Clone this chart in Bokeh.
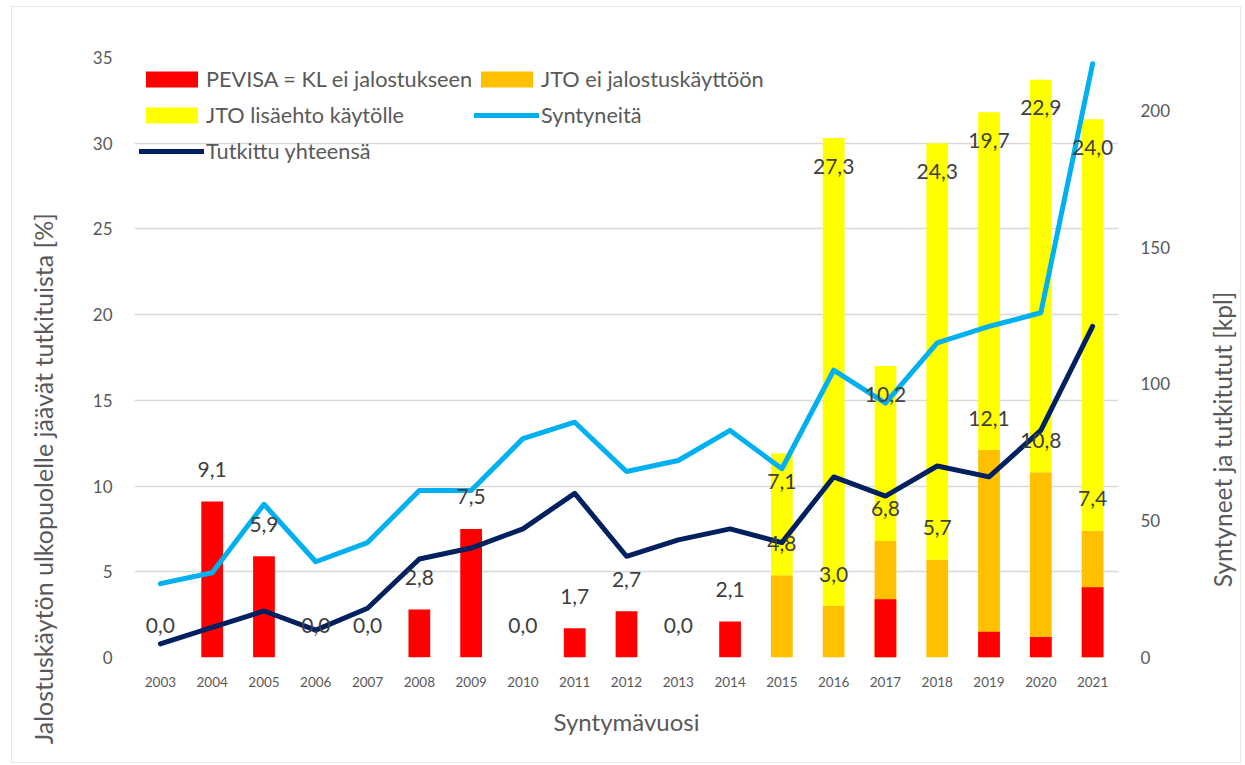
import math
from bokeh.plotting import figure
from bokeh.layouts import row
from bokeh.models import (FactorRange, Range1d, LinearAxis, ColumnDataSource,
                          Legend, LegendItem, Label, FixedTicker)
from bokeh.core.properties import value
from bokeh.embed import file_html
from bokeh.resources import INLINE

# ---------------- data ----------------
years = [str(y) for y in range(2003, 2022)]
# % of examined dogs
pevisa = [0.0, 9.1, 5.9, 0.0, 0.0, 2.8, 7.5, 0.0, 1.7, 2.7, 0.0, 2.1,
          0.0, 0.0, 3.4, 0.0, 1.5, 1.2, 4.1]            # PEVISA = KL ei jalostukseen
jto_ei = [0.0] * 12 + [4.8, 3.0, 6.8, 5.7, 12.1, 10.8, 7.4]      # JTO ei jalostuskäyttöön
jto_lisa = [0.0] * 12 + [7.1, 27.3, 10.2, 24.3, 19.7, 22.9, 24.0]  # JTO lisäehto käytölle
# counts (right axis)
syntyneita = [27, 31, 56, 35, 42, 61, 61, 80, 86, 68, 72, 83, 69, 105, 93, 115, 121, 126, 217]
tutkittu = [5, 11, 17, 10, 18, 36, 40, 47, 60, 37, 43, 47, 42, 66, 59, 70, 66, 83, 121]

left_ticks = [0, 5, 10, 15, 20, 25, 30, 35]
right_ticks = [0, 50, 100, 150, 200]

FONT = "Lato"
TXT = "#595959"
LBL = "#404040"

def fmt(v):
    return f"{v:.1f}".replace(".", ",")

yellow_top = [o + y for o, y in zip(jto_ei, jto_lisa)]
src = ColumnDataSource(dict(year=years, red=pevisa, orange=jto_ei, ytop=yellow_top,
                            synt=syntyneita, tutk=tutkittu))

low_x, low_y, low_t = [], [], []
hi_x, hi_y, hi_t = [], [], []
for yr, r, o, yl, yt in zip(years, pevisa, jto_ei, jto_lisa, yellow_top):
    if o == 0 and yl == 0:
        low_x.append(yr); low_y.append(r); low_t.append(fmt(r))
    else:
        low_x.append(yr); low_y.append(o); low_t.append(fmt(o))
        hi_x.append(yr); hi_y.append(yt); hi_t.append(fmt(yl))
low_src = ColumnDataSource(dict(x=low_x, y=low_y, t=low_t))
hi_src = ColumnDataSource(dict(x=hi_x, y=hi_y, t=hi_t))

H = 755

# ---------------- main figure ----------------
p = figure(x_range=FactorRange(factors=years, range_padding=0),
           y_range=Range1d(0, 35),
           width=1128, height=H, output_backend="svg", toolbar_location=None,
           min_border_left=62, min_border_right=82, min_border_top=50,
           min_border_bottom=105)
p.extra_y_ranges = {"right": Range1d(0, 219.3)}
p.outline_line_color = None
p.background_fill_color = "white"
p.border_fill_color = "white"

p.xgrid.grid_line_color = None
p.ygrid.grid_line_color = "#D9D9D9"
p.ygrid.grid_line_width = 1.3

BW = 0.42
r_or = p.vbar(x="year", bottom=0, top="orange", width=BW, fill_color="#FFC000",
              line_color=None, source=src)
r_ye = p.vbar(x="year", bottom="orange", top="ytop", width=BW, fill_color="#FFFF00",
              line_color=None, source=src)
r_red = p.vbar(x="year", bottom=0, top="red", width=BW, fill_color="#FF0000",
               line_color=None, source=src)

r_syn = p.line(x="year", y="synt", y_range_name="right", line_width=5, line_color="#00B0F0",
               line_join="round", line_cap="round", source=src)
r_tut = p.line(x="year", y="tutk", y_range_name="right", line_width=5, line_color="#002060",
               line_join="round", line_cap="round", source=src)

p.text(x="x", y="y", text="t", source=low_src, y_offset=-32, text_align="center",
       text_baseline="middle", text_font=value(FONT), text_font_size="21px", text_color=LBL)
p.text(x="x", y="y", text="t", source=hi_src, y_offset=28, text_align="center",
       text_baseline="middle", text_font=value(FONT), text_font_size="21px", text_color=LBL)

# ---------------- axes ----------------
def style_axis(ax, size):
    ax.axis_line_color = None
    ax.major_tick_line_color = None
    ax.minor_tick_line_color = None
    ax.major_tick_out = 0
    ax.major_tick_in = 0
    ax.minor_tick_out = 0
    ax.minor_tick_in = 0
    ax.major_label_text_font = FONT
    ax.major_label_text_font_size = size
    ax.major_label_text_color = TXT

yax = p.yaxis[0]
yax.ticker = FixedTicker(ticks=left_ticks)
style_axis(yax, "17px")
yax.major_label_standoff = 22

rax = LinearAxis(y_range_name="right", ticker=FixedTicker(ticks=right_ticks))
style_axis(rax, "17px")
rax.major_label_standoff = 22
p.add_layout(rax, "right")

xax = p.xaxis[0]
style_axis(xax, "13.5px")
xax.major_label_standoff = 19
xax.axis_label = "Syntymävuosi"
xax.axis_label_text_font = FONT
xax.axis_label_text_font_size = "24px"
xax.axis_label_text_font_style = "normal"
xax.axis_label_text_color = TXT
xax.axis_label_standoff = 17

# ---------------- legends ----------------
def make_legend(items, loc):
    lg = Legend(items=items, location=loc, orientation="vertical")
    lg.border_line_color = None
    lg.background_fill_alpha = 0
    lg.label_text_font = FONT
    lg.label_text_font_size = "21.7px"
    lg.label_text_color = TXT
    lg.glyph_width = 65
    lg.glyph_height = 20
    lg.label_height = 26
    lg.spacing = 10
    lg.padding = 0
    lg.margin = 0
    lg.label_standoff = 2
    return lg

leg1 = make_legend([LegendItem(label="PEVISA = KL ei jalostukseen", renderers=[r_red]),
                    LegendItem(label="JTO lisäehto käytölle", renderers=[r_ye]),
                    LegendItem(label="Tutkittu yhteensä", renderers=[r_tut])], (5, 493))
leg2 = make_legend([LegendItem(label="JTO ei jalostuskäyttöön", renderers=[r_or]),
                    LegendItem(label="Syntyneitä", renderers=[r_syn])], (340, 529))
p.add_layout(leg1)
p.add_layout(leg2)

# ---------------- value-axis titles (narrow strips) ----------------
# page y of the title centres: left 475, right 439; frame bottom of main plot at 657,
# canvas bottom at 762
def title_strip(width, text, sx, page_y, size):
    f = figure(width=width, height=H, output_backend="svg", toolbar_location=None,
               x_range=Range1d(0, 1), y_range=Range1d(0, 1),
               x_axis_location=None, y_axis_location=None,
               min_border_left=0, min_border_right=0, min_border_top=0, min_border_bottom=0)
    if "frame_align" in f.properties():
        f.frame_align = False
        sy = 762 - page_y
    else:
        sy = 657 - page_y
    f.outline_line_color = None
    f.grid.visible = False
    f.background_fill_color = "white"
    f.border_fill_color = "white"
    f.add_layout(Label(x=sx, y=sy, x_units="screen", y_units="screen", angle=math.pi / 2,
                       text=text, text_align="center", text_baseline="middle",
                       text_font=FONT, text_font_size=size, text_color=TXT))
    return f

left_strip = title_strip(60, "Jalostuskäytön ulkopuolelle jäävät  tutkituista [%]", 30, 475, "25px")
right_strip = title_strip(40, "Syntyneet ja tutkitutut [kpl]", 22, 439, "24.5px")

layout = row(left_strip, p, right_strip, spacing=0)
layout.styles = {"margin-left": "11px", "margin-top": "6px", "border": "1px solid #E8E8E8"}

open("out.html", "w").write(file_html(layout, INLINE))
